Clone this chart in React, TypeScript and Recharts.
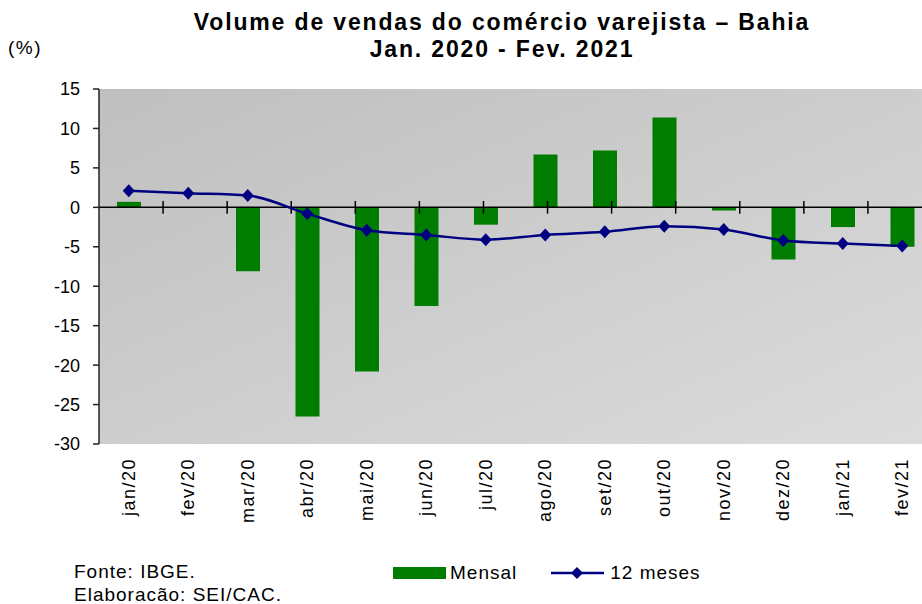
import {
  Bar,
  CartesianGrid,
  ComposedChart,
  Line,
  ReferenceLine,
  XAxis,
  YAxis,
} from "recharts";

const months = [
  "jan/20", "fev/20", "mar/20", "abr/20", "mai/20", "jun/20", "jul/20",
  "ago/20", "set/20", "out/20", "nov/20", "dez/20", "jan/21", "fev/21",
];
const mensal = [0.7, 0, -8.1, -26.5, -20.8, -12.5, -2.2, 6.7, 7.2, 11.4, -0.4, -6.6, -2.5, -5.0];
const dozeMeses = [2.1, 1.8, 1.5, -0.8, -2.9, -3.5, -4.1, -3.5, -3.1, -2.4, -2.8, -4.2, -4.6, -4.9];
const yTicks = [15, 10, 5, 0, -5, -10, -15, -20, -25, -30];

const rows = months.map((month, i) => ({
  month,
  mensal: mensal[i],
  doze: dozeMeses[i],
}));

const FONT = '"Liberation Sans", Arial, sans-serif';
const GREEN = "#007c00";
const NAVY = "#000080";

function MonthTick(props: any) {
  const { x, payload } = props;
  const tx = x + 6;
  const ty = 458;
  return (
    <text
      x={tx}
      y={ty}
      transform={`rotate(-90, ${tx}, ${ty})`}
      textAnchor="end"
      fontFamily={FONT}
      fontSize={18}
      letterSpacing={1.5}
      fill="#000"
    >
      {payload.value}
    </text>
  );
}

function Diamond(props: any) {
  const { cx, cy } = props;
  if (cx == null || cy == null) return null;
  const r = 6.5;
  return (
    <path
      d={`M${cx},${cy - r} L${cx + r - 0.5},${cy} L${cx},${cy + r} L${cx - r + 0.5},${cy} Z`}
      fill={NAVY}
    />
  );
}

export default function App() {
  const boundaries = months.slice(1).map((_, i) => i + 1);

  return (
    <div
      style={{
        position: "fixed",
        left: 0,
        top: 0,
        width: 922,
        height: 604,
        overflow: "hidden",
        background: "#fff",
        fontFamily: FONT,
        color: "#000",
      }}
    >
      <div
        style={{
          position: "absolute",
          left: 0,
          width: 1004,
          top: 9,
          textAlign: "center",
          fontWeight: "bold",
          fontSize: 23,
          letterSpacing: 1.85,
          lineHeight: "27px",
        }}
      >
        Volume de vendas do comércio varejista – Bahia
        <br />
        Jan. 2020 - Fev. 2021
      </div>
      <div
        style={{
          position: "absolute",
          left: 8,
          top: 37,
          fontSize: 19,
          letterSpacing: 1.5,
        }}
      >
        (%)
      </div>

      <div style={{ position: "absolute", left: 0, top: 0 }}>
        <ComposedChart
          width={932}
          height={604}
          data={rows}
          margin={{ top: 89, right: 0, bottom: 0, left: 0 }}
        >
          <defs>
            <linearGradient id="plotBg" x1="0" y1="0" x2="1" y2="1">
              <stop offset="0%" stopColor="#bfbfbf" />
              <stop offset="100%" stopColor="#dcdcdc" />
            </linearGradient>
          </defs>
          <CartesianGrid horizontal={false} vertical={false} fill="url(#plotBg)" stroke="none" />
          <XAxis
            dataKey="month"
            height={160}
            interval={0}
            axisLine={false}
            tickLine={false}
            tick={<MonthTick />}
          />
          <XAxis xAxisId="grid" type="number" domain={[0, 14]} hide />
          <YAxis
            domain={[-30, 15]}
            ticks={yTicks}
            interval={0}
            width={99}
            tickSize={6}
            tickMargin={13}
            axisLine={{ stroke: "#222", strokeWidth: 1.5 }}
            tickLine={{ stroke: "#222", strokeWidth: 1.5 }}
            tick={{ fontFamily: FONT, fontSize: 18, fill: "#000" }}
          />
          <Bar dataKey="mensal" barSize={24} fill={GREEN} isAnimationActive={false} />
          <ReferenceLine y={0} stroke="#000" strokeWidth={1.5} />
          {boundaries.map((b) => (
            <ReferenceLine
              key={b}
              xAxisId="grid"
              segment={[
                { x: b, y: 0.8 },
                { x: b, y: -0.8 },
              ]}
              stroke="#000"
              strokeWidth={1.5}
            />
          ))}
          <Line
            type="monotone"
            dataKey="doze"
            stroke={NAVY}
            strokeWidth={2.5}
            dot={<Diamond />}
            activeDot={false}
            isAnimationActive={false}
          />
        </ComposedChart>
      </div>

      <div
        style={{
          position: "absolute",
          left: 74,
          top: 560,
          fontSize: 19,
          letterSpacing: 1,
          lineHeight: "23px",
        }}
      >
        Fonte: IBGE.
        <br />
        Elaboracão: SEI/CAC.
      </div>

      <div
        style={{
          position: "absolute",
          left: 393,
          top: 562,
          display: "flex",
          alignItems: "center",
          fontSize: 19,
          letterSpacing: 1,
        }}
      >
        <span style={{ display: "inline-block", width: 53, height: 12, background: GREEN }} />
        <span style={{ marginLeft: 4 }}>Mensal</span>
        <svg width={54} height={14} style={{ marginLeft: 34 }}>
          <line x1={0} y1={7} x2={53} y2={7} stroke={NAVY} strokeWidth={2.5} />
          <path d="M26,1 L32,7 L26,13 L20,7 Z" fill={NAVY} />
        </svg>
        <span style={{ marginLeft: 5 }}>12 meses</span>
      </div>
    </div>
  );
}
